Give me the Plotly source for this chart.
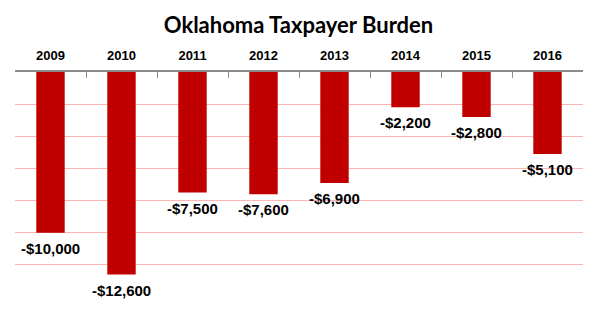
import plotly.graph_objects as go

years = ["2009", "2010", "2011", "2012", "2013", "2014", "2015", "2016"]
burden = [-10000, -12600, -7500, -7600, -6900, -2200, -2800, -5100]
labels = ["-$10,000", "-$12,600", "-$7,500", "-$7,600", "-$6,900", "-$2,200", "-$2,800", "-$5,100"]

fig = go.Figure()
fig.add_trace(go.Bar(
    x=years, y=burden, marker_color="#c00000", width=0.4,
    marker_line_width=0, hoverinfo="skip",
))

for i, (y, t) in enumerate(zip(burden, labels)):
    fig.add_annotation(
        x=i, y=y, text=t, showarrow=False, yanchor="top", yshift=-5,
        font=dict(family="Arial, Liberation Sans", size=15, color="black", weight="bold"),
    )

fig.update_layout(
    width=597, height=323,
    margin=dict(l=15, r=14, t=72, b=26),
    paper_bgcolor="white", plot_bgcolor="white",
    showlegend=False,
    title=dict(
        text="<b>Oklahoma Taxpayer Burden</b>", x=0.5, xanchor="center",
        y=1 - 25 / 323, yanchor="middle",
        font=dict(family="Lato, Open Sans", size=22, color="black"),
    ),
    xaxis=dict(
        type="category", categoryorder="array", categoryarray=years,
        range=[-0.5, len(years) - 0.5],
        side="top", showline=True, linecolor="#8c8c8c", linewidth=1.5,
        ticks="inside", ticklen=6, tickcolor="#8c8c8c", tickwidth=1,
        tickson="boundaries", showgrid=False, ticklabelstandoff=5,
        tickfont=dict(family="Arial, Liberation Sans", size=13, color="black", weight="bold"),
        fixedrange=True,
    ),
    yaxis=dict(
        range=[-14000, 0], dtick=2000, showticklabels=False,
        showgrid=True, gridcolor="#ffb3b3", gridwidth=1,
        zeroline=False, showline=False, ticks="",
    ),
)

fig.write_html("out.html")
